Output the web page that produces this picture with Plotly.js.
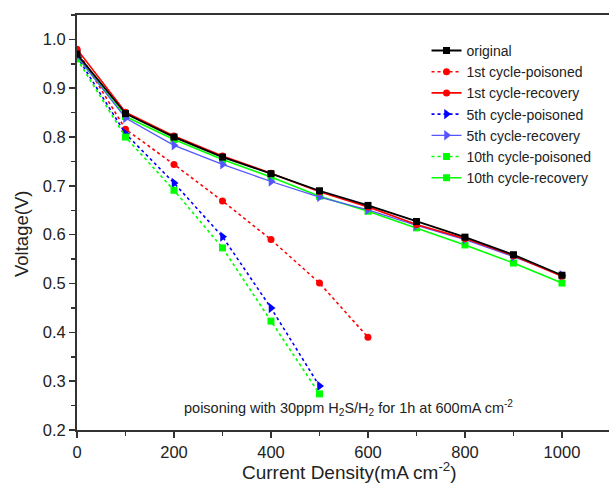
<!DOCTYPE html>
<html>
<head>
<meta charset="utf-8">
<script src="https://cdn.plot.ly/plotly-3.0.1.min.js"></script>
<style>html,body{margin:0;padding:0;background:#fff;}#chart{width:609px;height:487px;}</style>
</head>
<body>
<div id="chart"></div>
<script>
// Data
const xFull = [0, 100, 200, 300, 400, 500, 600, 700, 800, 900, 1000];
const xPois1 = [0, 100, 200, 300, 400, 500, 600];
const xPois5 = [0, 100, 200, 300, 400, 500];
const xPois10 = [0, 100, 200, 300, 400, 500];

const original   = [0.970, 0.848, 0.800, 0.759, 0.725, 0.690, 0.660, 0.627, 0.595, 0.559, 0.517];
const rec1       = [0.980, 0.851, 0.802, 0.761, 0.726, 0.688, 0.657, 0.621, 0.592, 0.557, 0.515];
const pois1      = [0.978, 0.816, 0.744, 0.669, 0.590, 0.501, 0.390];
const pois5      = [0.965, 0.807, 0.706, 0.596, 0.450, 0.290];
const rec5       = [0.966, 0.839, 0.783, 0.744, 0.709, 0.677, 0.651, 0.619, 0.590, 0.555, 0.517];
const pois10     = [0.960, 0.800, 0.691, 0.573, 0.423, 0.274];
const rec10      = [0.965, 0.842, 0.795, 0.754, 0.718, 0.679, 0.648, 0.614, 0.579, 0.542, 0.501];

const names = ["original", "1st cycle-poisoned", "1st cycle-recovery", "5th cycle-poisoned",
               "5th cycle-recovery", "10th cycle-poisoned", "10th cycle-recovery"];

const annX = [560];
const annY = [0.245];

function tr(name, x, y, color, dash, symbol, width) {
  return {
    type: 'scatter', mode: 'lines+markers', name: name, x: x, y: y,
    line: {color: color, dash: dash, width: width},
    marker: {color: color, symbol: symbol, size: symbol === 'triangle-right' ? 9 : 7}
  };
}

const data = [
  tr(names[1], xPois1, pois1, '#ff0000', 'dot', 'circle', 1.6),
  tr(names[3], xPois5, pois5, '#0000ff', 'dot', 'triangle-right', 1.6),
  tr(names[5], xPois10, pois10, '#00ff00', 'dot', 'square', 1.6),
  tr(names[6], xFull, rec10, '#00ff00', 'solid', 'square', 1.6),
  tr(names[4], xFull, rec5, '#5555ff', 'solid', 'triangle-right', 1.2),
  tr(names[2], xFull, rec1, '#ff0000', 'solid', 'circle', 1.6),
  tr(names[0], xFull, original, '#000000', 'solid', 'square', 1.8)
];
// legend order as in reference
const order = {};
names.forEach((n, i) => order[n] = i);
data.forEach(d => d.legendrank = order[d.name] + 1);

const font = "Liberation Sans, Arial, sans-serif";

const layout = {
  width: 609, height: 487,
  margin: {l: 77, r: 0, t: 15, b: 57},
  paper_bgcolor: '#ffffff', plot_bgcolor: '#ffffff',
  font: {family: font, color: '#222'},
  showlegend: true,
  legend: {
    x: 0.657, y: 0.952, xanchor: 'left', yanchor: 'top',
    bgcolor: 'rgba(0,0,0,0)', borderwidth: 0,
    font: {family: font, size: 14, color: '#222'},
    tracegroupgap: 0
  },
  xaxis: {
    range: [0, 1097], tickvals: [0, 200, 400, 600, 800, 1000],
    ticks: 'outside', ticklen: 6, tickwidth: 1.5, tickcolor: '#333',
    minor: {tickvals: [100, 300, 500, 700, 900], ticks: 'outside', ticklen: 4, tickwidth: 1.5, tickcolor: '#333'},
    showline: true, linecolor: '#333', linewidth: 2, mirror: true,
    showgrid: false, zeroline: false,
    tickfont: {family: font, size: 16.5, color: '#222'}
  },
  yaxis: {
    range: [0.2, 1.05], tickvals: [0.2, 0.3, 0.4, 0.5, 0.6, 0.7, 0.8, 0.9, 1.0], tickformat: '.1f',
    ticks: 'outside', ticklen: 6, tickwidth: 1.5, tickcolor: '#333',
    minor: {tickvals: [0.25, 0.35, 0.45, 0.55, 0.65, 0.75, 0.85, 0.95, 1.05], ticks: 'outside', ticklen: 4, tickwidth: 1.5, tickcolor: '#333'},
    showline: true, linecolor: '#333', linewidth: 2, mirror: false,
    showgrid: false, zeroline: false,
    tickfont: {family: font, size: 16.5, color: '#222'}
  },
  annotations: [
    {x: annX[0], y: annY[0], xref: 'x', yref: 'y', showarrow: false,
     text: 'poisoning with 30ppm H<sub>2</sub>S/H<sub>2</sub> for 1h at 600mA cm<sup>-2</sup>',
     font: {family: font, size: 14.5, color: '#222'}},
    {showarrow: false, xanchor: 'center', yanchor: 'middle',
     text: 'Current Density(mA cm<sup>-2</sup>)', font: {family: font, size: 19, color: '#222'}},
    {showarrow: false, textangle: -90, xanchor: 'center', yanchor: 'middle',
     text: 'Voltage(V)', font: {family: font, size: 18.5, color: '#222'}}
  ]
};
// convert pixel-positioned titles into paper coordinates
const pw = 609 - 77 - 0, ph = 487 - 15 - 57;
const a1 = layout.annotations[1], a2 = layout.annotations[2];
a1.xref = 'paper'; a1.yref = 'paper';
a1.x = (349 - 77) / pw; a1.y = (430 - 471) / ph;
a2.xref = 'paper'; a2.yref = 'paper';
a2.x = (21 - 77) / pw; a2.y = (430 - 234) / ph;

Plotly.newPlot('chart', data, layout, {displayModeBar: false, staticPlot: true});
</script>
</body>
</html>
